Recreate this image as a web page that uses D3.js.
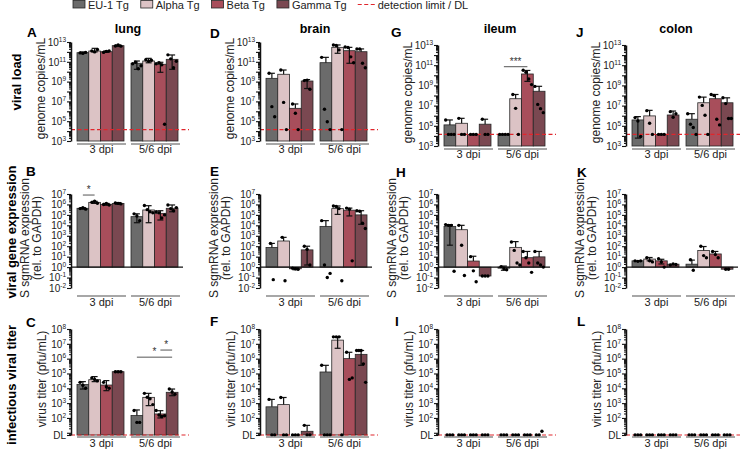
<!DOCTYPE html>
<html>
<head>
<meta charset="utf-8">
<script src="https://cdn.jsdelivr.net/npm/d3@7"></script>
<style>
  body { margin: 0; background: #fff; }
  svg { font-family: "Liberation Sans", Arial, sans-serif; }
</style>
</head>
<body>
<svg id="fig" width="740" height="454"></svg>
<script>
var genotypes = ['EU-1 Tg', 'Alpha Tg', 'Beta Tg', 'Gamma Tg'];
var timepoints = ['3 dpi', '5/6 dpi'];
var tissues = ['lung', 'brain', 'ileum', 'colon'];
var colours = ['#6b6b6b', '#dcc3c5', '#a84e5b', '#7a4851'];

// all values are log10; order = EU-1, Alpha, Beta, Gamma at 3 dpi, then the same at 5/6 dpi
var loadDL = 4.15;   // genome copies/mL
var titerDL = 0.85;  // pfu/mL

// viral load (genome copies/mL)
var lungLoad = [11.92, 12.09, 12.02, 12.63, 10.85, 11.08, 10.75, 11.25];
var lungLoadHi = [12.0, 12.36, 12.1, 12.7, 11.08, 11.35, 10.95, 11.69];
var lungLoadLo = [11.85, 12.0, 11.95, 12.55, 10.24, 10.9, 9.94, 10.24];
var lungLoadPts = [[11.9, 11.85, 11.95], [12.1, 12.0, 12.25], [11.95, 12.05, 12.1], [12.6, 12.7, 12.58],
  [10.8, 10.95, 10.3, 10.6], [11.2, 11.05, 11.15], [10.8, 10.9, 10.7, 4.69], [11.7, 11.3, 10.4, 11.05]];

var brainLoad = [9.33, 9.74, 6.3, 9.06, 10.91, 12.46, 12.12, 12.02];
var brainLoadHi = [9.84, 10.17, 6.74, 9.2, 11.45, 12.7, 12.46, 12.3];
var brainLoadLo = [null, null, null, 8.3, null, 11.86, 10.85, null];
var brainLoadPts = [[9.84, 6.47, 5.45], [10.17, 6.9, 4.15], [6.74, 5.8, 4.15], [9.1, 9.15, 8.22],
  [11.45, 6.2, 4.95, 4.15], [12.7, 12.65, 12.2, 4.15], [12.5, 12.45, 11.5, 10.9], [12.3, 12.3, 10.85, 10.4]];

var ileumLoad = [5.09, 5.25, 4.15, 5.16, 4.15, 7.68, 10.13, 8.42];
var ileumLoadHi = [5.58, 5.74, null, 5.65, null, 8.1, 10.48, 8.91];
var ileumLoadLo = [null, null, null, null, null, null, 9.4, null];
var ileumLoadPts = [[5.58, 4.15, 4.15, 4.15], [5.74, 4.15, 4.15], [4.15, 4.15, 4.15], [5.65, 4.15, 4.15],
  [4.15, 4.15, 4.15, 4.15], [8.1, 6.73, 4.15], [10.5, 10.3, 9.64, 9.08], [8.9, 7.12, 6.7, 6.3]];

var colonLoad = [5.58, 5.98, 4.15, 6.07, 5.65, 7.28, 7.68, 7.28];
var colonLoadHi = [5.91, 6.53, null, 6.46, 6.2, 7.84, 8.1, 7.77];
var colonLoadLo = [3.78, null, null, null, null, null, null, null];
var colonLoadPts = [[5.81, 5.48, 3.94], [6.5, 5.25, 4.15], [4.15, 4.15, 4.15], [6.4, 5.85, 6.2],
  [6.2, 5.16, 4.83, 4.15], [7.84, 7.02, 6.04, 4.15], [8.1, 8.0, 5.65, 5.09], [7.77, 7.2, 5.72, 5.72]];

// S sgmRNA expression (rel. to GAPDH)
var lungExpr = [5.63, 6.2, 6.01, 6.1, 4.83, 5.47, 5.15, 5.63];
var lungExprHi = [5.7, 6.3, 6.1, 6.18, 5.1, 5.88, 5.4, 5.95];
var lungExprLo = [5.55, 6.1, 5.92, 6.02, 4.25, 4.25, 4.51, 5.3];
var lungExprPts = [[5.6, 5.68, 5.55], [6.2, 6.3, 6.12], [6.0, 6.1, 5.95], [6.15, 6.1, 6.05],
  [5.1, 4.9, 4.45], [5.9, 5.5, 5.3, 5.2], [5.3, 5.2, 4.7, 5.0], [5.95, 5.6, 5.4, 5.7]];

var brainExpr = [1.88, 2.5, -0.16, 1.65, 3.9, 5.6, 5.45, 5.0];
var brainExprHi = [2.27, 2.85, -0.05, 2.0, 4.45, 5.85, 5.65, 5.4];
var brainExprLo = [null, null, -0.25, 0.2, null, 5.05, 4.9, 4.1];
var brainExprPts = [[2.27, -1.2], [2.85, -1.3], [-0.1, -0.15, -0.2], [2.0, 1.7, 0.2],
  [4.45, 0.2, -1.0, -0.6], [5.85, 5.8, 5.6, -1.3], [5.65, 5.55, 0.6], [5.4, 5.35, 4.2, 3.7]];

var ileumExpr = [3.9, 3.58, 0.58, -0.85, -0.1, 1.89, 0.9, 0.98];
var ileumExprHi = [4.07, 4.0, 1.04, null, 0.1, 2.44, 1.5, 1.5];
var ileumExprLo = [2.1, null, null, null, -0.3, null, null, null];
var ileumExprPts = [[4.07, 4.0, 4.0, -0.4], [4.0, 2.1, -0.8], [1.0, -0.36, -1.4], [-0.85, -0.85, -0.85],
  [0.05, -0.15, -0.25], [2.4, 1.6, 0.4, 0.2], [1.5, 0.9, 0.4, -0.5], [1.5, 0.4, 0.2, 0.0]];

var colonExpr = [0.6, 0.77, 0.6, 0.28, 0.28, 1.6, 1.26, -0.2];
var colonExprHi = [null, 0.92, 0.75, null, 0.67, 1.97, 1.5, null];
var colonExprLo = [null, 0.6, 0.3, null, null, null, null, null];
var colonExprPts = [[0.6, 0.55, 0.6], [0.9, 0.6, 0.5], [0.8, 0.5, 0.0], [0.2, 0.3, 0.25],
  [0.7, -0.3], [2.0, 1.1, 0.9], [1.5, 1.2, 0.9], [-0.2, -0.2]];

// infectious titer (pfu/mL)
var lungTiter = [4.25, 4.58, 4.22, 5.12, 2.16, 3.39, 2.27, 3.73];
var lungTiterHi = [4.45, 4.79, 4.52, 5.15, 2.54, 3.66, 2.49, 3.95];
var lungTiterLo = [3.95, 4.45, 3.84, 5.09, null, 2.83, 2.0, 3.5];
var lungTiterPts = [[4.4, 4.2, 4.0], [4.7, 4.6, 4.5], [4.4, 4.1, 4.0], [5.12, 5.12, 5.12],
  [2.5, 1.7, 1.7], [3.66, 3.4, 3.3, 2.9], [2.5, 2.2, 2.1, 2.15], [3.95, 3.75, 3.6]];

var brainTiter = [2.75, 2.9, null, 1.1, 5.1, 7.25, 6.0, 6.29];
var brainTiterHi = [3.25, 3.38, null, 1.5, 5.55, 7.47, 6.43, 6.55];
var brainTiterLo = [null, null, null, null, null, 6.7, null, 5.55];
var brainTiterPts = [[3.25, 0.85, 0.85], [3.38, 0.85, 0.85], [0.85, 0.85, 0.85], [1.5, 0.85, 0.85],
  [5.55, 0.85, 0.85, 0.85], [7.47, 7.47, 7.47, 0.85], [6.43, 4.6, 4.7], [6.55, 6.55, 6.55, 5.65, 4.4]];

var ileumTiter = [null, null, null, null, null, null, null, null];
var ileumTiterHi = [null, null, null, null, null, null, null, null];
var ileumTiterLo = [null, null, null, null, null, null, null, null];
var ileumTiterPts = [[0.85, 0.85, 0.85], [0.85, 0.85, 0.85], [0.85, 0.85, 0.85], [0.85, 0.85, 0.85],
  [0.85, 0.85, 0.85], [0.85, 0.85, 0.85], [0.85, 0.85, 0.85], [0.85, 0.85, 1.1]];

var colonTiter = [null, null, null, null, null, null, null, null];
var colonTiterHi = [null, null, null, null, null, null, null, null];
var colonTiterLo = [null, null, null, null, null, null, null, null];
var colonTiterPts = [[0.85, 0.85, 0.85], [0.85, 0.85, 0.85], [0.85, 0.85, 0.85], [0.85, 0.85, 0.85],
  [0.85, 0.85, 0.85], [0.85, 0.85, 0.85], [0.85, 0.85, 0.85], [0.85, 0.85, 0.85]];

// significance brackets: panel, bar index from/to, level (log10) and label
var sigs = [
  {panel: 'B', from: 0, to: 1, at: 6.9, label: '*'},
  {panel: 'G', from: 4, to: 6, at: 10.85, label: '***'},
  {panel: 'C', from: 4, to: 7, at: 6.1, label: '*'},
  {panel: 'C', from: 6, to: 7, at: 6.58, label: '*'}
];

var letters = [['A', 'D', 'G', 'J'], ['B', 'E', 'H', 'K'], ['C', 'F', 'I', 'L']];
var rowTitles = ['viral load', 'viral gene expression', 'infectious viral titer'];

var panels = [
  [[lungLoad, lungLoadHi, lungLoadLo, lungLoadPts], [brainLoad, brainLoadHi, brainLoadLo, brainLoadPts],
   [ileumLoad, ileumLoadHi, ileumLoadLo, ileumLoadPts], [colonLoad, colonLoadHi, colonLoadLo, colonLoadPts]],
  [[lungExpr, lungExprHi, lungExprLo, lungExprPts], [brainExpr, brainExprHi, brainExprLo, brainExprPts],
   [ileumExpr, ileumExprHi, ileumExprLo, ileumExprPts], [colonExpr, colonExprHi, colonExprLo, colonExprPts]],
  [[lungTiter, lungTiterHi, lungTiterLo, lungTiterPts], [brainTiter, brainTiterHi, brainTiterLo, brainTiterPts],
   [ileumTiter, ileumTiterHi, ileumTiterLo, ileumTiterPts], [colonTiter, colonTiterHi, colonTiterLo, colonTiterPts]]
];

// layout
var svg = d3.select('#fig');
var colX = [71, 260, 438, 626];
var rowBox = [
  [[42, 141], [42, 141], [45, 146], [45, 146]],
  [[194, 288], [194, 288], [194, 288], [194, 288]],
  [[329, 435], [329, 435], [329, 435], [329, 435]]
];
var rows = [
  {lo: 3, hi: 13, base: 3, dl: loadDL, every: 2, first: 3, ytitle: ['genome copies/mL'], tdx: [-30], under: 3, lab: 12},
  {lo: -2, hi: 7, base: 0, dl: null, every: 1, first: -2, ytitle: ['S sgmRNA expression', '(rel. to GAPDH)'], tdx: [-46, -34], under: 8, lab: 18},
  {lo: titerDL, hi: 8, base: titerDL, dl: titerDL, every: 1, first: 2, ytitle: ['virus titer (pfu/mL)'], tdx: [-29], under: 2, lab: 12}
];
var letterPos = [[[27, 37], [210, 38], [391, 37], [576, 37]],
                 [[26, 176], [210, 176], [396, 177], [577, 177]],
                 [[26, 327], [210, 326], [395, 326], [577, 326]]];
var titleX = [128, 315, 500, 676];
var rowTitlePos = [[16, 82], [11, 232], [11, 385]];

var pow = function(v) { return Math.pow(10, v); };

function drawPanel(r, c) {
  var cfg = rows[r], a = colX[c], top = rowBox[r][c][0], bot = rowBox[r][c][1];
  var d = panels[r][c];
  var y = d3.scaleLog().domain([pow(cfg.lo), pow(cfg.hi)]).range([bot, top]);
  var yv = function(v) { return y(pow(v)); };
  var xg = d3.scaleBand().domain(timepoints).range([a + 6, a + 107]).paddingInner(0.13);
  var xb = d3.scaleBand().domain(genotypes).range([0, xg.bandwidth()]);
  var bw = xb.bandwidth();
  var g = svg.append('g');

  var items = d[0].map(function(m, i) {
    return {i: i, t: timepoints[Math.floor(i / 4)], gt: genotypes[i % 4], m: m, hi: d[1][i], lo: d[2][i], pts: d[3][i]};
  });
  var cx = function(o) { return xg(o.t) + xb(o.gt) + bw / 2; };

  g.selectAll('rect.bar').data(items.filter(function(o) { return o.m != null; })).join('rect')
    .attr('class', 'bar')
    .attr('x', function(o) { return xg(o.t) + xb(o.gt); })
    .attr('width', bw)
    .attr('y', function(o) { return Math.min(yv(o.m), yv(cfg.base)); })
    .attr('height', function(o) { return Math.abs(yv(o.m) - yv(cfg.base)); })
    .attr('fill', function(o) { return colours[o.i % 4]; })
    .attr('stroke', '#262626').attr('stroke-width', 0.8);

  // error bars
  items.forEach(function(o) {
    if (o.m == null) return;
    if (o.hi == null && o.lo == null) return;
    var x = cx(o);
    var y1 = o.hi != null ? yv(o.hi) : yv(o.m);
    var y2 = o.lo != null ? yv(o.lo) : yv(o.m);
    g.append('line').attr('x1', x).attr('x2', x).attr('y1', y1).attr('y2', y2)
      .attr('stroke', '#111').attr('stroke-width', 1.2);
    [o.hi, o.lo].forEach(function(v) {
      if (v == null) return;
      g.append('line').attr('x1', x - 3).attr('x2', x + 3).attr('y1', yv(v)).attr('y2', yv(v))
        .attr('stroke', '#111').attr('stroke-width', 1.2);
    });
  });

  // detection limit / zero line
  if (cfg.dl != null) {
    g.append('line').attr('x1', a).attr('x2', a + 118).attr('y1', yv(cfg.dl)).attr('y2', yv(cfg.dl))
      .attr('stroke', '#e0262c').attr('stroke-width', 1.1).attr('stroke-dasharray', '4,2.5');
  } else {
    g.append('line').attr('x1', a).attr('x2', a + 112).attr('y1', yv(cfg.base)).attr('y2', yv(cfg.base))
      .attr('stroke', '#111').attr('stroke-width', 1.1);
  }

  // individual animals
  items.forEach(function(o) {
    var n = o.pts.length;
    g.selectAll(null).data(o.pts).join('circle')
      .attr('cx', function(v, k) { return cx(o) + (k - (n - 1) / 2) * Math.min(2.8, 9 / Math.max(1, n - 1)); })
      .attr('cy', function(v) { return yv(v); })
      .attr('r', 1.7).attr('fill', '#000');
  });

  // y axis: minor and major ticks
  var minor = [], major = [];
  for (var e = Math.floor(cfg.lo); e < cfg.hi; e++) {
    for (var k = 2; k <= 9; k++) {
      var lv = e + Math.log10(k);
      if (lv > cfg.lo && lv < cfg.hi) minor.push(pow(lv));
    }
  }
  for (var e2 = Math.ceil(cfg.lo); e2 <= cfg.hi; e2++) major.push(pow(e2));
  if (r === 2) major.unshift(pow(cfg.lo));

  var ax = g.append('g').attr('transform', 'translate(' + a + ',0)');
  ax.append('g').call(d3.axisLeft(y).tickValues(minor).tickSize(2).tickSizeOuter(0).tickFormat(''))
    .call(function(s) { s.select('.domain').remove(); s.selectAll('line').attr('stroke', '#111'); });
  var mj = ax.append('g').call(d3.axisLeft(y).tickValues(major).tickSize(4).tickSizeOuter(0).tickFormat(''));
  mj.select('.domain').attr('stroke', '#111').attr('stroke-width', 1.5);
  mj.selectAll('line').attr('stroke', '#111').attr('stroke-width', 1.1);
  mj.selectAll('text').each(function(v) {
    var t = d3.select(this).attr('x', -5).attr('font-size', 10).attr('fill', '#222').attr('font-family', null);
    var ex = Math.log10(v);
    if (r === 2 && Math.abs(ex - cfg.lo) < 1e-6) { t.text('DL'); return; }
    ex = Math.round(ex);
    if (ex < cfg.first || (ex - cfg.first) % cfg.every !== 0) return;
    t.append('tspan').text('10');
    t.append('tspan').attr('dy', -4).attr('font-size', 6.5).text(ex);
  });

  // group underlines and labels
  timepoints.forEach(function(tp) {
    var x0 = xg(tp), x1 = xg(tp) + xg.bandwidth();
    g.append('line').attr('x1', x0).attr('x2', x1 + 2).attr('y1', bot + cfg.under).attr('y2', bot + cfg.under)
      .attr('stroke', '#8a8a8a').attr('stroke-width', 1.6);
    g.append('text').attr('x', (x0 + x1) / 2 + 1).attr('y', bot + cfg.lab).attr('text-anchor', 'middle')
      .attr('font-size', 11).attr('fill', '#222').text(tp);
  });

  // axis title
  cfg.ytitle.forEach(function(t, k) {
    var tx = a + cfg.tdx[k], ty = (top + bot) / 2 - 3;
    g.append('text').attr('transform', 'translate(' + tx + ',' + ty + ')rotate(-90)')
      .attr('text-anchor', 'middle').attr('dy', '0.3em').attr('font-size', 12).attr('fill', '#222').text(t);
  });

  // panel letter
  g.append('text').attr('x', letterPos[r][c][0]).attr('y', letterPos[r][c][1])
    .attr('font-size', 13.5).attr('font-weight', 'bold').text(letters[r][c]);

  // significance
  sigs.filter(function(s) { return s.panel === letters[r][c]; }).forEach(function(s) {
    var x0 = cx(items[s.from]), x1 = cx(items[s.to]), yy = yv(s.at);
    g.append('line').attr('x1', x0).attr('x2', x1).attr('y1', yy).attr('y2', yy)
      .attr('stroke', '#555').attr('stroke-width', 1);
    g.append('text').attr('x', (x0 + x1) / 2).attr('y', yy - 2).attr('text-anchor', 'middle')
      .attr('font-size', 10).attr('fill', '#333').text(s.label);
  });
}

for (var r = 0; r < 3; r++) {
  for (var c = 0; c < 4; c++) drawPanel(r, c);
}

// column titles
svg.selectAll('text.col').data(tissues).join('text').attr('class', 'col')
  .attr('x', function(t, i) { return titleX[i]; }).attr('y', 33)
  .attr('text-anchor', 'middle').attr('font-size', 12.5).attr('font-weight', 'bold').text(function(t) { return t; });

// row titles
svg.selectAll('text.row').data(rowTitles).join('text').attr('class', 'row')
  .attr('transform', function(t, i) { return 'translate(' + rowTitlePos[i][0] + ',' + rowTitlePos[i][1] + ')rotate(-90)'; })
  .attr('text-anchor', 'middle').attr('dy', '0.35em').attr('font-size', 13).attr('font-weight', 'bold')
  .text(function(t) { return t; });

// legend
var lx = 73;
var leg = svg.append('g');
genotypes.forEach(function(gt, i) {
  leg.append('rect').attr('x', lx).attr('y', 0.5).attr('width', 12).attr('height', 7.5)
    .attr('fill', colours[i]).attr('stroke', '#262626').attr('stroke-width', 0.8);
  var t = leg.append('text').attr('x', lx + 15).attr('y', 8.5).attr('font-size', 11).attr('fill', '#222').text(gt);
  lx += 15 + t.node().getComputedTextLength() + 12;
});
leg.append('line').attr('x1', lx - 1).attr('x2', lx + 17).attr('y1', 4.5).attr('y2', 4.5)
  .attr('stroke', '#e0262c').attr('stroke-width', 1.2).attr('stroke-dasharray', '4,2.5');
leg.append('text').attr('x', lx + 19).attr('y', 8.5).attr('font-size', 11).attr('fill', '#222').text('detection limit / DL');
</script>
</body>
</html>
